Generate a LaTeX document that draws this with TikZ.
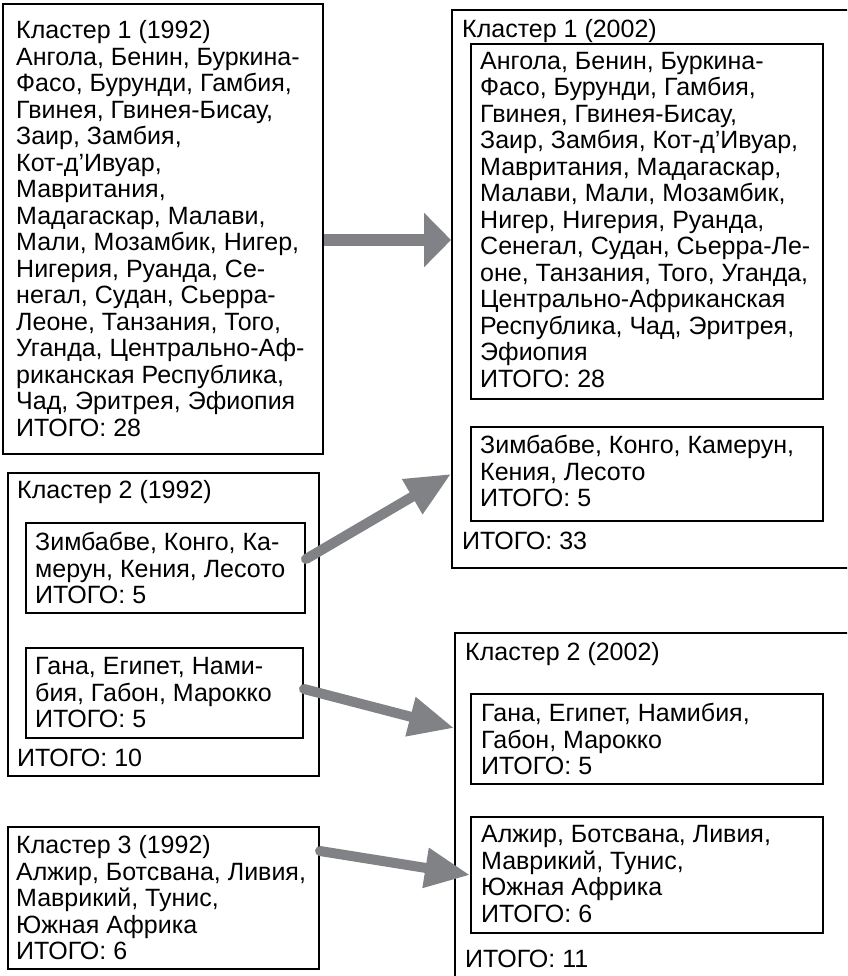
\documentclass[tikz,border=0pt]{standalone}
\usepackage{fontspec}
\setmainfont{Liberation Sans}
\usetikzlibrary{arrows.meta}
\definecolor{arrowgray}{RGB}{128,130,134}
\tikzset{
  box/.style={draw=black, line width=2pt, anchor=north west, inner sep=0pt},
  txt/.style={anchor=north west, inner sep=0pt, align=left,
    font=\fontsize{25}{26.5}\selectfont},
  flow/.style={arrowgray, line width=10pt, line cap=round,
    -{Triangle[length=45pt,width=38pt]}}
}
\begin{document}
\begin{tikzpicture}[x=1pt, y=-1pt]
            \path[use as bounding box, clip] (0,0) rectangle (847,976);

            % Clusters of 1992
            \node[box, minimum width=320pt, minimum height=450pt] (k1a) at (2,3) {};
            \node[txt] (k1at) at (16,20.2) {Кластер 1 (1992)\\Ангола, Бенин, Буркина-\\Фасо, Бурунди, Гамбия,\\Гвинея, Гвинея-Бисау,\\Заир, Замбия,\\Кот-д’Ивуар,\\Мавритания,\\Мадагаскар, Малави,\\Мали, Мозамбик, Нигер,\\Нигерия, Руанда, Се-\\негал, Судан, Сьерра-\\Леоне, Танзания, Того,\\Уганда, Центрально-Аф-\\риканская Республика,\\Чад, Эритрея, Эфиопия\\ИТОГО: 28};

            \node[box, minimum width=311pt, minimum height=303pt] (k2a) at (7,472) {};
            \node[txt] (k2at) at (17,480.2) {Кластер 2 (1992)};
            \node[box, minimum width=279pt, minimum height=90pt] (k2z) at (25,522) {};
            \node[txt] (k2zt) at (35,532.2) {Зимбабве, Конго, Ка-\\мерун, Кения, Лесото\\ИТОГО: 5};
            \node[box, minimum width=277pt, minimum height=90pt] (k2g) at (25,647) {};
            \node[txt] (k2gt) at (35,657.2) {Гана, Египет, Нами-\\бия, Габон, Марокко\\ИТОГО: 5};
            \node[txt] (k2as) at (17,749.2) {ИТОГО: 10};

            \node[box, minimum width=311pt, minimum height=142pt] (k3a) at (7,826) {};
            \node[txt] (k3at) at (16,835.2) {Кластер 3 (1992)\\Алжир, Ботсвана, Ливия,\\Маврикий, Тунис,\\Южная Африка\\ИТОГО: 6};

            % Clusters of 2002
            \node[box, minimum width=450pt, minimum height=558pt] (k1b) at (451,9) {};
            \node[txt] (k1bt) at (462,19.2) {Кластер 1 (2002)};
            \node[box, minimum width=352pt, minimum height=355pt] (k1ba) at (470,43) {};
            \node[txt] (k1bat) at (480,51.7) {Ангола, Бенин, Буркина-\\Фасо, Бурунди, Гамбия,\\Гвинея, Гвинея-Бисау,\\Заир, Замбия, Кот-д’Ивуар,\\Мавритания, Мадагаскар,\\Малави, Мали, Мозамбик,\\Нигер, Нигерия, Руанда,\\Сенегал, Судан, Сьерра-Ле-\\оне, Танзания, Того, Уганда,\\Центрально-Африканская\\Республика, Чад, Эритрея,\\Эфиопия\\ИТОГО: 28};
            \node[box, minimum width=352pt, minimum height=94pt] (k1bz) at (470,426) {};
            \node[txt] (k1bzt) at (480,435.2) {Зимбабве, Конго, Камерун,\\Кения, Лесото\\ИТОГО: 5};
            \node[txt] (k1bs) at (462,532.2) {ИТОГО: 33};

            \node[box, minimum width=450pt, minimum height=400pt] (k2b) at (454,632) {};
            \node[txt] (k2bt) at (465,642.2) {Кластер 2 (2002)};
            \node[box, minimum width=352pt, minimum height=90pt] (k2bg) at (470,693) {};
            \node[txt] (k2bgt) at (481,703.2) {Гана, Египет, Намибия,\\Габон, Марокко\\ИТОГО: 5};
            \node[box, minimum width=352pt, minimum height=116pt] (k2ba) at (470,816) {};
            \node[txt] (k2bat) at (481,825.2) {Алжир, Ботсвана, Ливия,\\Маврикий, Тунис,\\Южная Африка\\ИТОГО: 6};
            \node[txt] (k2bs) at (465,950.2) {ИТОГО: 11};

            % Transitions
            \coordinate (s1) at ([yshift=-11pt]k1a.east);
            \coordinate (s2) at ([yshift=9pt]k2z.east);
            \coordinate (s3) at ([yshift=4pt]k2g.east);
            \coordinate (t3) at ([yshift=11pt]k2bg.west);
            \coordinate (s4) at ([yshift=47pt]k3a.east);
            \draw[arrowgray, line width=12pt, -{Triangle[length=27pt,width=53pt]}] (s1) -- (s1 -| k1b.west);
            \draw[flow] (s2) -- (k1b.west |- k1bz.west);
            \draw[flow] (s3) -- (k2b.west |- t3);
            \draw[flow] (s4) -- (k2ba.west);
\end{tikzpicture}
\end{document}
